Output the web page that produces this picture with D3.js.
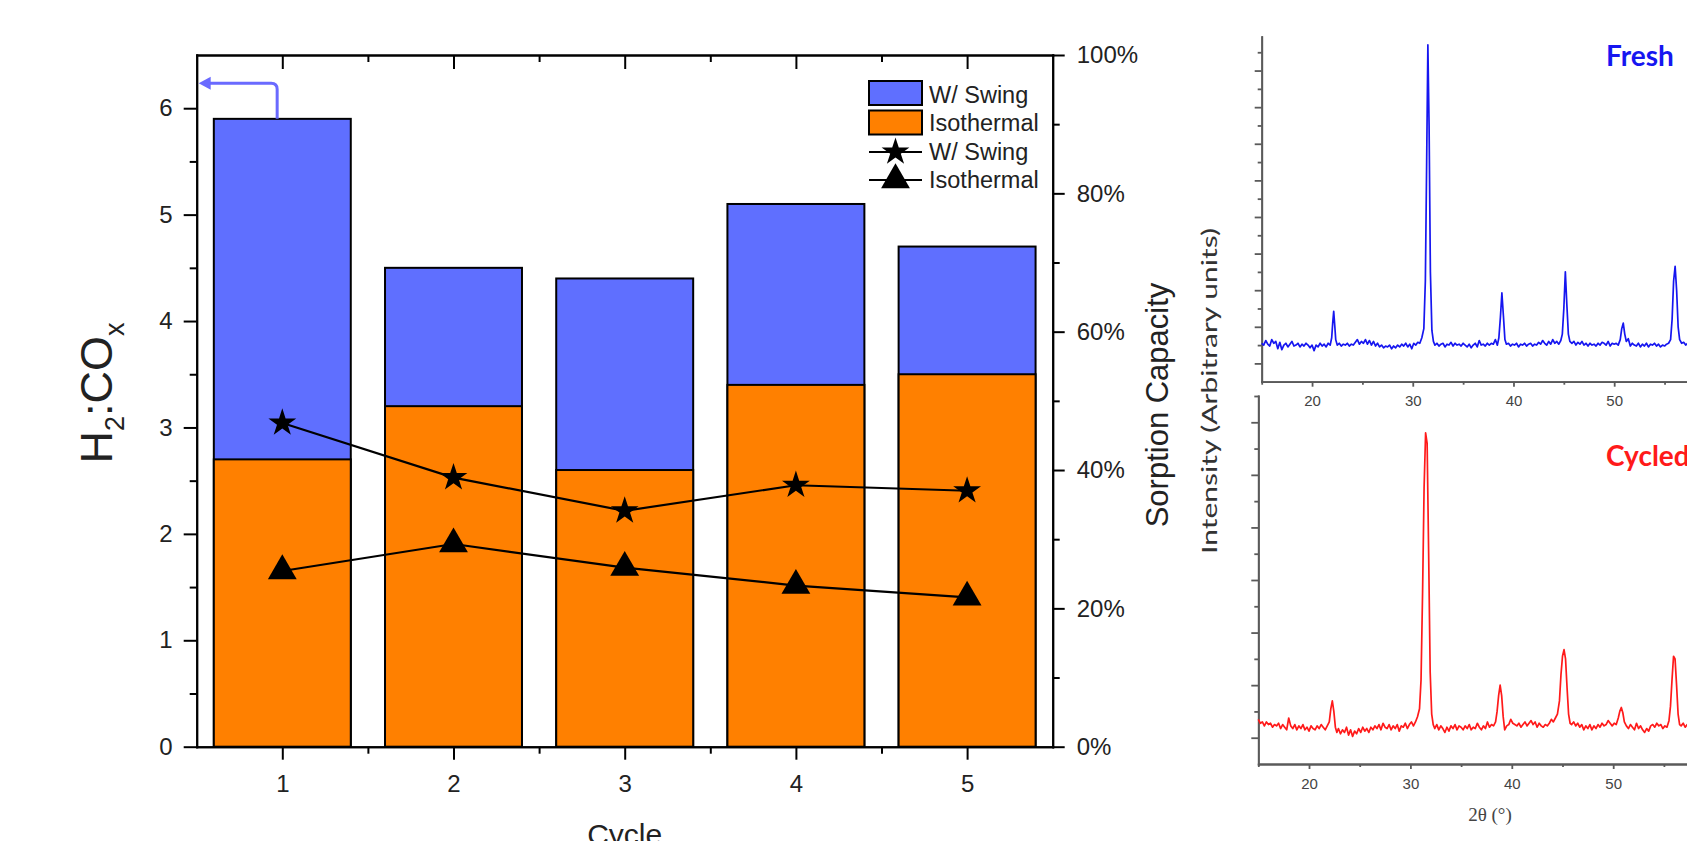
<!DOCTYPE html>
<html><head><meta charset="utf-8">
<script src="https://cdn.jsdelivr.net/npm/d3@7"></script>
<style>body{margin:0;background:#fff;overflow:hidden}svg{display:block}</style>
</head><body>
<svg id="c" width="1687" height="841"></svg>
<script>
// ---------------- data ----------------
const cycles = [1, 2, 3, 4, 5];
const ratioSwing = [5.9, 4.5, 4.4, 5.1, 4.7];     // H2:COx, W/ Swing (bar)
const ratioIso = [2.7, 3.2, 2.6, 3.4, 3.5];       // H2:COx, Isothermal (bar)
const capSwing = [46.8, 38.9, 34.1, 37.8, 37.0];  // Sorption capacity %, W/ Swing
const capIso = [25.4, 29.3, 25.9, 23.3, 21.6];    // Sorption capacity %, Isothermal
const leftTicks = [0, 1, 2, 3, 4, 5, 6];
const leftMinor = [0.5, 1.5, 2.5, 3.5, 4.5, 5.5];
const rightTicks = [0, 20, 40, 60, 80, 100];
const rightMinor = [10, 30, 50, 70, 90];
const xMinor = [1.5, 2.5, 3.5, 4.5];
const legendLabels = ["W/ Swing", "Isothermal", "W/ Swing", "Isothermal"];
const xrdTicks = [20, 30, 40, 50];
const xrdMinor = [15, 25, 35, 45, 55];

const freshPattern = [
[15.0,2.1],[15.2,2.0],[15.4,2.25],[15.6,2.05],[15.8,1.95],[16.0,2.3],[16.2,2.1],[16.4,2.2],[16.6,1.8],[16.8,2.15],
[17.0,1.75],[17.2,2.0],[17.4,2.1],[17.6,1.9],[17.8,2.05],[18.0,2.2],[18.2,1.95],[18.4,2.0],[18.6,2.1],[18.8,1.9],
[19.0,2.05],[19.2,1.95],[19.4,2.1],[19.6,2.0],[19.8,1.85],[20.0,2.0],[20.2,1.7],[20.4,2.0],[20.6,1.9],[20.8,2.1],
[21.0,1.95],[21.2,2.05],[21.4,1.9],[21.6,2.1],[21.8,2.0],[21.95,2.4],[22.05,3.2],[22.15,3.85],[22.25,3.1],[22.35,2.3],
[22.5,2.0],[22.7,2.1],[22.9,1.95],[23.1,2.05],[23.3,2.0],[23.5,2.1],[23.7,1.95],[23.9,2.05],[24.1,2.0],[24.3,2.15],
[24.5,2.3],[24.7,2.05],[24.9,2.2],[25.1,2.1],[25.3,2.3],[25.5,2.05],[25.7,2.25],[25.9,2.0],[26.1,2.2],[26.3,1.95],
[26.5,2.1],[26.7,1.9],[26.9,2.0],[27.1,1.85],[27.3,1.95],[27.5,1.9],[27.7,2.0],[27.9,1.8],[28.1,1.95],[28.3,1.85],
[28.5,2.0],[28.7,1.9],[28.9,2.05],[29.1,1.95],[29.3,2.1],[29.5,1.9],[29.7,2.05],[29.9,1.8],[30.1,2.1],[30.3,2.0],
[30.5,2.15],[30.7,2.1],[30.9,2.4],[31.1,2.9],[31.25,5.5],[31.38,12.0],[31.5,18.4],[31.62,14.0],[31.75,6.0],[31.9,2.8],
[32.05,2.2],[32.2,2.0],[32.4,2.1],[32.6,1.95],[32.8,2.05],[33.0,2.1],[33.2,1.9],[33.4,2.05],[33.6,2.0],[33.8,2.15],
[34.0,1.95],[34.2,2.1],[34.4,2.0],[34.6,2.05],[34.8,1.95],[35.0,2.1],[35.2,2.0],[35.4,1.9],[35.6,2.05],[35.8,1.85],
[36.0,2.0],[36.2,2.1],[36.4,1.9],[36.6,2.25],[36.8,2.0],[37.0,2.05],[37.2,1.95],[37.4,2.1],[37.6,2.0],[37.8,2.1],
[38.0,2.05],[38.2,2.3],[38.4,2.0],[38.55,2.4],[38.7,3.5],[38.85,4.85],[39.0,3.6],[39.15,2.3],[39.3,2.05],[39.5,2.1],
[39.7,1.95],[39.9,2.05],[40.1,2.0],[40.3,2.1],[40.5,1.9],[40.7,2.05],[40.9,2.0],[41.1,2.1],[41.3,1.95],[41.5,2.05],
[41.7,2.1],[41.9,1.95],[42.1,2.05],[42.3,2.0],[42.5,2.15],[42.7,2.05],[42.9,2.25],[43.1,2.1],[43.3,2.0],[43.5,2.2],
[43.7,2.05],[43.9,2.3],[44.1,2.1],[44.3,2.2],[44.5,2.05],[44.7,2.25],[44.85,2.6],[45.0,4.0],[45.15,6.0],[45.3,4.2],
[45.45,2.6],[45.6,2.2],[45.8,2.1],[46.0,2.2],[46.2,2.0],[46.4,2.15],[46.6,2.05],[46.8,2.2],[47.0,2.0],[47.2,2.1],
[47.4,1.95],[47.6,2.1],[47.8,2.0],[48.0,2.05],[48.2,1.95],[48.4,2.1],[48.6,2.0],[48.8,2.15],[49.0,2.1],[49.2,2.0],
[49.4,2.2],[49.6,1.95],[49.8,2.1],[50.0,2.05],[50.2,2.1],[50.4,2.0],[50.6,2.3],[50.75,2.9],[50.9,3.2],[51.05,2.6],
[51.2,2.2],[51.4,2.35],[51.6,1.95],[51.8,2.1],[52.0,2.0],[52.2,1.95],[52.4,2.1],[52.6,1.9],[52.8,2.05],[53.0,1.95],
[53.2,2.1],[53.4,1.9],[53.6,2.05],[53.8,2.0],[54.0,2.1],[54.2,1.95],[54.4,2.05],[54.6,1.9],[54.8,2.0],[55.0,1.95],
[55.2,2.05],[55.4,2.1],[55.6,2.3],[55.75,3.4],[55.9,5.5],[56.05,6.3],[56.2,5.0],[56.35,3.0],[56.5,2.3],[56.7,2.1],
[56.9,2.15],[57.1,2.0],[57.3,2.1],[57.5,2.05],[57.8,2.1]
];

const cycledPattern = [
[15.0,1.7],[15.2,1.55],[15.4,1.6],[15.6,1.45],[15.8,1.6],[16.0,1.5],[16.2,1.55],[16.4,1.4],[16.6,1.5],[16.8,1.45],
[17.0,1.55],[17.2,1.35],[17.4,1.5],[17.6,1.4],[17.8,1.3],[18.0,1.75],[18.2,1.45],[18.4,1.35],[18.6,1.5],[18.8,1.3],
[19.0,1.45],[19.2,1.35],[19.4,1.5],[19.6,1.3],[19.8,1.4],[20.0,1.25],[20.2,1.45],[20.4,1.35],[20.6,1.3],[20.8,1.45],
[21.0,1.35],[21.2,1.5],[21.4,1.4],[21.6,1.3],[21.8,1.45],[22.0,1.6],[22.15,2.1],[22.3,2.4],[22.45,2.0],[22.6,1.4],
[22.75,1.2],[22.9,1.35],[23.1,1.15],[23.3,1.3],[23.5,1.2],[23.7,1.4],[23.9,1.1],[24.1,1.3],[24.3,1.05],[24.5,1.25],
[24.7,1.15],[24.9,1.35],[25.1,1.2],[25.3,1.4],[25.5,1.25],[25.7,1.35],[25.9,1.2],[26.1,1.4],[26.3,1.3],[26.5,1.45],
[26.7,1.35],[26.9,1.5],[27.1,1.3],[27.3,1.55],[27.5,1.4],[27.7,1.35],[27.9,1.5],[28.1,1.3],[28.3,1.45],[28.5,1.35],
[28.7,1.5],[28.9,1.25],[29.1,1.45],[29.3,1.4],[29.5,1.55],[29.7,1.35],[29.9,1.5],[30.1,1.6],[30.3,1.45],[30.5,1.6],
[30.7,1.8],[30.9,2.1],[31.05,3.2],[31.2,6.5],[31.35,10.5],[31.5,12.6],[31.65,12.2],[31.8,8.0],[31.95,3.5],[32.1,1.9],
[32.25,1.5],[32.4,1.35],[32.6,1.5],[32.8,1.3],[33.0,1.45],[33.2,1.35],[33.4,1.2],[33.6,1.4],[33.8,1.25],[34.0,1.45],
[34.2,1.35],[34.4,1.5],[34.6,1.3],[34.8,1.45],[35.0,1.4],[35.2,1.3],[35.4,1.45],[35.6,1.35],[35.8,1.5],[36.0,1.3],
[36.2,1.4],[36.4,1.35],[36.6,1.55],[36.8,1.4],[37.0,1.3],[37.2,1.45],[37.4,1.35],[37.6,1.6],[37.8,1.4],[38.0,1.5],
[38.2,1.45],[38.4,1.6],[38.55,2.0],[38.7,2.6],[38.85,3.0],[39.0,2.6],[39.15,1.8],[39.3,1.3],[39.5,1.45],[39.7,1.5],
[39.9,1.7],[40.1,1.55],[40.3,1.5],[40.5,1.45],[40.7,1.55],[40.9,1.4],[41.1,1.5],[41.3,1.6],[41.5,1.45],[41.7,1.55],
[41.9,1.65],[42.1,1.5],[42.3,1.6],[42.5,1.4],[42.7,1.55],[42.9,1.45],[43.1,1.4],[43.3,1.5],[43.5,1.45],[43.7,1.55],
[43.9,1.7],[44.1,1.6],[44.3,1.75],[44.5,1.9],[44.7,2.4],[44.85,3.4],[45.0,4.1],[45.15,4.35],[45.3,4.0],[45.45,2.9],
[45.6,1.9],[45.75,1.55],[45.9,1.5],[46.1,1.6],[46.3,1.45],[46.5,1.55],[46.7,1.4],[46.9,1.5],[47.1,1.3],[47.3,1.45],
[47.5,1.35],[47.7,1.5],[47.9,1.3],[48.1,1.45],[48.3,1.35],[48.5,1.5],[48.7,1.4],[48.9,1.55],[49.1,1.45],[49.3,1.5],
[49.5,1.65],[49.7,1.55],[49.9,1.45],[50.1,1.55],[50.3,1.5],[50.5,1.75],[50.65,2.0],[50.8,2.15],[50.95,1.95],[51.1,1.6],
[51.3,1.45],[51.5,1.35],[51.7,1.5],[51.9,1.4],[52.1,1.3],[52.3,1.55],[52.5,1.35],[52.7,1.45],[52.9,1.3],[53.1,1.2],
[53.3,1.35],[53.5,1.25],[53.7,1.45],[53.9,1.5],[54.1,1.4],[54.3,1.55],[54.5,1.45],[54.7,1.5],[54.9,1.35],[55.1,1.45],
[55.3,1.4],[55.5,1.65],[55.65,2.2],[55.8,3.2],[55.95,4.1],[56.1,4.0],[56.25,3.0],[56.4,1.9],[56.55,1.5],[56.7,1.45],
[56.9,1.55],[57.1,1.4],[57.3,1.5],[57.5,1.45],[57.8,1.5]
];

// ---------------- styling ----------------
const FONT = "'Liberation Sans', Arial, Helvetica, sans-serif";
const BLUE = "#5f6fff", ORANGE = "#ff8000";
const svg = d3.select("#c");

const x = d3.scaleLinear().domain([0.5, 5.5]).range([196.7, 1052.7]);
const yL = d3.scaleLinear().domain([0, 6.5]).range([746.7, 55]);
const yR = d3.scaleLinear().domain([0, 100]).range([746.7, 55]);

function styleAxis(g, w, color, size, fill) {
  g.select(".domain").attr("stroke", color).attr("stroke-width", w).attr("stroke-linecap", "square");
  g.selectAll(".tick line").attr("stroke", color).attr("stroke-width", w);
  g.selectAll("text").attr("font-family", FONT).attr("font-size", size).attr("fill", fill);
}

// ---------------- bars ----------------
const bw = x(1.4) - x(0.6);
svg.append("g").selectAll("rect").data(cycles).join("rect")
  .attr("x", d => x(d - 0.4)).attr("width", bw)
  .attr("y", (d, i) => yL(ratioSwing[i])).attr("height", (d, i) => yL(0) - yL(ratioSwing[i]))
  .attr("fill", BLUE).attr("stroke", "#000").attr("stroke-width", 2);
svg.append("g").selectAll("rect").data(cycles).join("rect")
  .attr("x", d => x(d - 0.4)).attr("width", bw)
  .attr("y", (d, i) => yL(ratioIso[i])).attr("height", (d, i) => yL(0) - yL(ratioIso[i]))
  .attr("fill", ORANGE).attr("stroke", "#000").attr("stroke-width", 2);

// ---------------- axes ----------------
const gl = svg.append("g").attr("transform", `translate(${x(0.5)},0)`)
  .call(d3.axisLeft(yL).tickValues(leftTicks).tickSize(13).tickSizeOuter(0).tickPadding(11).tickFormat(d3.format("d")));
styleAxis(gl, 2, "#000", 24, "#222");
const glm = svg.append("g").attr("transform", `translate(${x(0.5)},0)`)
  .call(d3.axisLeft(yL).tickValues(leftMinor).tickSize(7).tickSizeOuter(0).tickFormat(""));
styleAxis(glm, 2, "#000", 24, "#222");

const gb = svg.append("g").attr("transform", `translate(0,${yL(0)})`)
  .call(d3.axisBottom(x).tickValues(cycles).tickSize(13).tickSizeOuter(0).tickPadding(15).tickFormat(d3.format("d")));
styleAxis(gb, 2, "#000", 24, "#222");
const gbm = svg.append("g").attr("transform", `translate(0,${yL(0)})`)
  .call(d3.axisBottom(x).tickValues(xMinor).tickSize(7).tickSizeOuter(0).tickFormat(""));
styleAxis(gbm, 2, "#000", 24, "#222");

const gt = svg.append("g").attr("transform", `translate(0,${yL(6.5)})`)
  .call(d3.axisTop(x).tickValues(cycles).tickSize(-14).tickSizeOuter(0).tickFormat(""));
styleAxis(gt, 2, "#000", 24, "#222");
const gtm = svg.append("g").attr("transform", `translate(0,${yL(6.5)})`)
  .call(d3.axisTop(x).tickValues(xMinor).tickSize(-7).tickSizeOuter(0).tickFormat(""));
styleAxis(gtm, 2, "#000", 24, "#222");

const gr = svg.append("g").attr("transform", `translate(${x(5.5)},0)`)
  .call(d3.axisRight(yR).tickValues(rightTicks).tickSize(12).tickSizeOuter(0).tickPadding(12).tickFormat(d => d + "%"));
styleAxis(gr, 2, "#000", 24, "#222");
const grm = svg.append("g").attr("transform", `translate(${x(5.5)},0)`)
  .call(d3.axisRight(yR).tickValues(rightMinor).tickSize(7).tickSizeOuter(0).tickFormat(""));
styleAxis(grm, 2, "#000", 24, "#222");

// axis titles
const tL = svg.append("text").attr("transform", `translate(112,393) rotate(-90)`)
  .attr("text-anchor", "middle").attr("font-family", FONT).attr("font-size", 45).attr("fill", "#222");
tL.append("tspan").text("H");
tL.append("tspan").attr("font-size", 27).attr("dy", 12).text("2");
tL.append("tspan").attr("dy", -12).text(":CO");
tL.append("tspan").attr("font-size", 27).attr("dy", 12).text("x");

svg.append("text").attr("transform", `translate(1168,405) rotate(-90)`)
  .attr("text-anchor", "middle").attr("font-family", FONT).attr("font-size", 31).attr("fill", "#222")
  .text("Sorption Capacity");

svg.append("text").attr("x", x(3)).attr("y", 845).attr("text-anchor", "middle")
  .attr("font-family", FONT).attr("font-size", 30).attr("fill", "#222").text("Cycle");

// ---------------- lines ----------------
const line = d3.line().x((d, i) => x(cycles[i])).y(d => yR(d));
svg.append("path").datum(capSwing).attr("d", line).attr("fill", "none").attr("stroke", "#000").attr("stroke-width", 2.2);
svg.append("path").datum(capIso).attr("d", line).attr("fill", "none").attr("stroke", "#000").attr("stroke-width", 2.2);
const star = d3.symbol(d3.symbolStar, 240);
const tri = d3.symbol(d3.symbolTriangle, 360);
svg.append("g").selectAll("path").data(capSwing).join("path")
  .attr("transform", (d, i) => `translate(${x(cycles[i])},${yR(d)})`).attr("d", star).attr("fill", "#000");
svg.append("g").selectAll("path").data(capIso).join("path")
  .attr("transform", (d, i) => `translate(${x(cycles[i])},${yR(d)})`).attr("d", tri).attr("fill", "#000");

// ---------------- arrow ----------------
const ax = x(0.97), ay0 = yL(ratioSwing[0]), ayT = yL(6.235), axEnd = x(0.5);
const ap = d3.path();
ap.moveTo(ax, ay0); ap.lineTo(ax, ayT + 6); ap.quadraticCurveTo(ax, ayT, ax - 6, ayT); ap.lineTo(axEnd + 10, ayT);
svg.append("path").attr("d", ap.toString()).attr("fill", "none").attr("stroke", "#6a6aff").attr("stroke-width", 3);
svg.append("path").attr("d", `M${axEnd + 2},${ayT}L${axEnd + 14},${ayT - 6.5}L${axEnd + 14},${ayT + 6.5}Z`).attr("fill", "#6a6aff");

// ---------------- legend ----------------
const lg = svg.append("g").attr("font-family", FONT).attr("font-size", 23.5).attr("fill", "#222");
lg.append("rect").attr("x", 869).attr("y", 81).attr("width", 53).attr("height", 24).attr("fill", BLUE).attr("stroke", "#000").attr("stroke-width", 2);
lg.append("rect").attr("x", 869).attr("y", 110.5).attr("width", 53).attr("height", 24).attr("fill", ORANGE).attr("stroke", "#000").attr("stroke-width", 2);
lg.append("line").attr("x1", 869).attr("x2", 922).attr("y1", 152).attr("y2", 152).attr("stroke", "#000").attr("stroke-width", 2.2);
lg.append("path").attr("transform", "translate(895.5,152)").attr("d", star).attr("fill", "#000");
lg.append("line").attr("x1", 869).attr("x2", 922).attr("y1", 180).attr("y2", 180).attr("stroke", "#000").attr("stroke-width", 2.2);
lg.append("path").attr("transform", "translate(895.5,180)").attr("d", tri).attr("fill", "#000");
const lgY = [103, 131, 160, 188];
lg.selectAll("text").data(legendLabels).join("text").attr("x", 929).attr("y", (d, i) => lgY[i]).text(d => d);

// ---------------- XRD panels ----------------
const GRAY = "#5a5a5a";
const fx = d3.scaleLinear().domain([15, 60]).range([1261.7, 1714.9]);
const fy = d3.scaleLinear().domain([0, 18.85]).range([381.7, 36.7]);
const cx = d3.scaleLinear().domain([15, 60]).range([1258.3, 1714.6]);
const cy = d3.scaleLinear().domain([0, 14]).range([764, 396]);
const oddT = n => d3.range(1, n + 1, 2), evenT = n => d3.range(2, n + 1, 2);

function xrdPanel(sx, sy, maxTick, pattern, color, label, labelY) {
  const g1 = svg.append("g").attr("transform", `translate(${sx(15)},0)`)
    .call(d3.axisLeft(sy).tickValues(oddT(maxTick)).tickSize(7).tickSizeOuter(0).tickFormat(""));
  styleAxis(g1, 1.8, GRAY, 15, "#444");
  const g2 = svg.append("g").attr("transform", `translate(${sx(15)},0)`)
    .call(d3.axisLeft(sy).tickValues(evenT(maxTick)).tickSize(4).tickSizeOuter(0).tickFormat(""));
  styleAxis(g2, 1.8, GRAY, 15, "#444");
  const g3 = svg.append("g").attr("transform", `translate(0,${sy(0)})`)
    .call(d3.axisBottom(sx).tickValues(xrdTicks).tickSize(5).tickSizeOuter(0).tickPadding(9));
  styleAxis(g3, 1.8, GRAY, 15, "#444");
  const g4 = svg.append("g").attr("transform", `translate(0,${sy(0)})`)
    .call(d3.axisBottom(sx).tickValues(xrdMinor).tickSize(3).tickSizeOuter(0).tickFormat(""));
  styleAxis(g4, 1.8, GRAY, 15, "#444");
  svg.append("path").datum(pattern)
    .attr("d", d3.line().x(d => sx(d[0])).y(d => sy(d[1])))
    .attr("fill", "none").attr("stroke", color).attr("stroke-width", 1.7).attr("stroke-linejoin", "round");
  svg.append("text").attr("x", 1606).attr("y", labelY).attr("font-family", "Lato, 'Open Sans', sans-serif")
    .attr("font-weight", "bold").attr("font-size", 28).attr("fill", color).text(label);
}
xrdPanel(fx, fy, 18, freshPattern, "#1616f0", "Fresh", 66);
xrdPanel(cx, cy, 14, cycledPattern, "#ff1a1a", "Cycled", 466);

svg.append("text").attr("transform", "translate(1217,391) rotate(-90)").attr("text-anchor", "middle")
  .attr("font-family", "Lato, 'Open Sans', sans-serif").attr("font-size", 22).attr("fill", "#333")
  .attr("textLength", 326).attr("lengthAdjust", "spacingAndGlyphs").text("Intensity (Arbitrary units)");

svg.append("text").attr("x", 1490).attr("y", 821).attr("text-anchor", "middle")
  .attr("font-family", "'Liberation Serif', 'DejaVu Serif', serif").attr("font-size", 19).attr("fill", "#444")
  .text("2θ (°)");
</script>
</body></html>
